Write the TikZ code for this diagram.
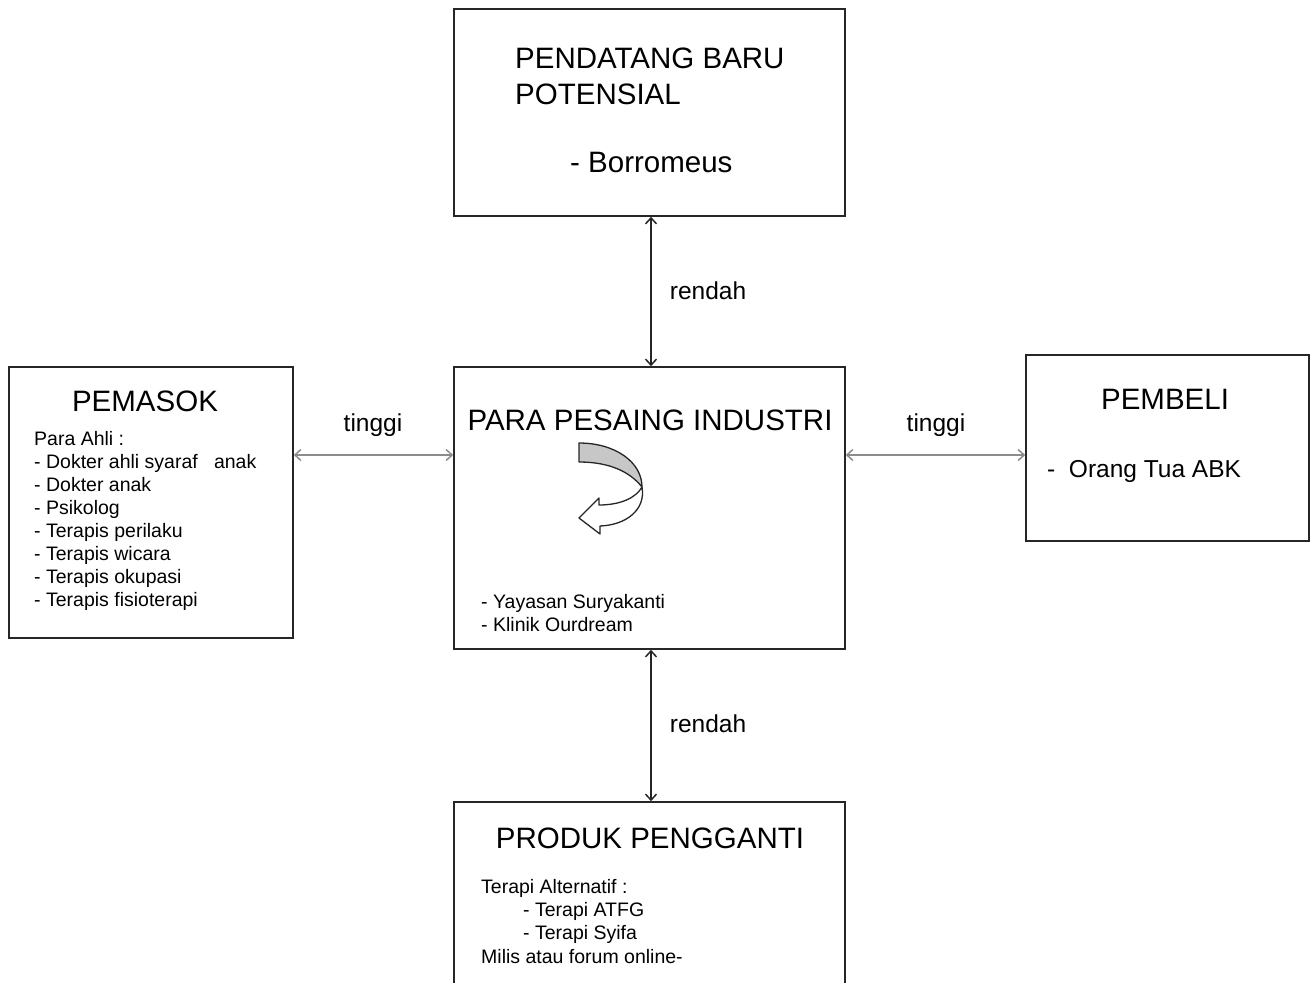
\documentclass[tikz,border=0pt]{standalone}
\usepackage{fontspec}
\setmainfont{Liberation Sans}
\usetikzlibrary{arrows.meta}
\tikzset{
  box/.style={draw=black!85, line width=1.6pt, inner sep=0pt, fill=white},
  title/.style={inner sep=0pt, anchor=base, font=\fontsize{29.5}{34}\selectfont},
  ttl/.style={inner sep=0pt, anchor=base west, font=\fontsize{29.5}{34}\selectfont},
  item/.style={inner sep=0pt, anchor=base west, font=\fontsize{19.5}{23}\selectfont},
  mid/.style={inner sep=0pt, anchor=base west, font=\fontsize{24.5}{28}\selectfont},
  lbl/.style={inner sep=0pt, anchor=base, font=\fontsize{24.5}{28}\selectfont},
  force/.style={line width=1.5pt, {Straight Barb[length=6pt,width=11pt]}-{Straight Barb[length=6pt,width=11pt]}},
}
\begin{document}
\begin{tikzpicture}[x=1pt,y=-1pt]
\clip (0,0) rectangle (1311,982);
\fill[white] (0,0) rectangle (1311,982);

% the five forces boxes
\node[box, minimum width=391pt, minimum height=207pt] (top) at (649.5,112.5) {};
\node[box, minimum width=391pt, minimum height=282pt] (center) at (649.5,508) {};
\node[box, minimum width=284pt, minimum height=271pt] (left) at (151,502.5) {};
\node[box, minimum width=283pt, minimum height=186pt] (right) at (1167.5,448) {};
\node[box, minimum width=391pt, minimum height=210pt] (bottom) at (649.5,907) {};

% connectors
\coordinate (hy) at (0,455);
\coordinate (vx) at (651,0);
\draw[force, draw=black!85] (top.south -| vx) -- (center.north -| vx);
\draw[force, draw=black!85] (center.south -| vx) -- (bottom.north -| vx);
\draw[force, draw=black!45] (left.east |- hy) -- (center.west |- hy);
\draw[force, draw=black!45] (center.east |- hy) -- (right.west |- hy);

% connector labels
\node[lbl] (r1) at (708,299.5) {rendah};
\node[lbl] (r2) at (708,732.5) {rendah};
\node[lbl] (t1) at (373,431) {tinggi};
\node[lbl] (t2) at (936,431) {tinggi};

% new entrants
\node[ttl] (pb1) at (515,69) {PENDATANG BARU};
\node[ttl] (pb2) at (515,104) {POTENSIAL};
\node[ttl] (pb3) at (570,172) {- Borromeus};

% suppliers
\node[title] (ps) at (145,411) {PEMASOK};
\foreach \t [count=\i] in {Para Ahli :,
    - Dokter ahli syaraf\ \ \ anak,
    - Dokter anak,
    - Psikolog,
    - Terapis perilaku,
    - Terapis wicara,
    - Terapis okupasi,
    - Terapis fisioterapi}
  \node[item] (ps\i) at (34,{445+23*(\i-1)}) {\t};

% rivalry
\node[title] (ind) at (650,430) {PARA PESAING INDUSTRI};
\node[item] (ind1) at (481,608.5) {- Yayasan Suryakanti};
\node[item] (ind2) at (481,631.5) {- Klinik Ourdream};

% curved rivalry arrow
\path[draw=black!85, line width=1.3pt, fill=black!22, line join=round]
  (579,443) .. controls (615,443) and (642,462) .. (642,487)
  .. controls (630,472) and (610,462) .. (579,462) -- cycle;
\path[draw=black!85, line width=1.3pt, fill=white, line join=round]
  (642,487) .. controls (636,498) and (620,505) .. (599,505)
  -- (599,498) -- (579,518) -- (600,534) -- (600,526)
  .. controls (626,525) and (646,510) .. (642,487) -- cycle;

% buyers
\node[title] (pm) at (1165,409) {PEMBELI};
\node[mid] (pm1) at (1047,477) {-\ \ Orang Tua ABK};

% substitutes
\node[title] (sub) at (650,848) {PRODUK PENGGANTI};
\node[item] (sub1) at (481,893.5) {Terapi Alternatif :};
\node[item] (sub2) at (523,916.5) {- Terapi ATFG};
\node[item] (sub3) at (523,939.5) {- Terapi Syifa};
\node[item] (sub4) at (481,963.5) {Milis atau forum online-};
\end{tikzpicture}
\end{document}
